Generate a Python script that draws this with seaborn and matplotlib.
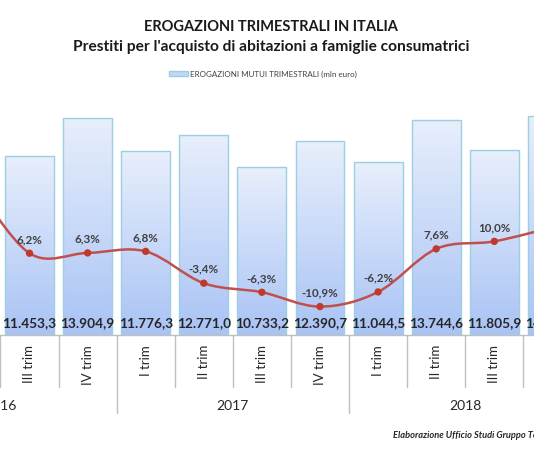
import numpy as np
import matplotlib
matplotlib.use("Agg")
import matplotlib.pyplot as plt
import seaborn as sns
import pandas as pd
from matplotlib.path import Path
from matplotlib.patches import PathPatch, Patch
from matplotlib.colors import LinearSegmentedColormap

# Data (II trim 2016 and IV trim 2018 are only partly visible in the crop)
quarters = ["II trim", "III trim", "IV trim", "I trim", "II trim", "III trim",
            "IV trim", "I trim", "II trim", "III trim", "IV trim"]
years = ["2016", "2016", "2016", "2017", "2017", "2017",
         "2017", "2018", "2018", "2018", "2018"]
erogazioni = [13220.0, 11453.3, 13904.9, 11776.3, 12771.0, 10733.2,
              12390.7, 11044.5, 13744.6, 11805.9, 14000.0]
variazione = [30.0, 6.2, 6.3, 6.8, -3.4, -6.3, -10.9, -6.2, 7.6, 10.0, 14.5]
year_labels = ["2016", "2017", "2018"]

df = pd.DataFrame({"periodo": [f"{q} {y}" for q, y in zip(quarters, years)],
                   "erogazioni": erogazioni, "variazione": variazione})


def it_num(v, dec=1):
    s = f"{v:,.{dec}f}"
    return s.replace(",", "X").replace(".", ",").replace("X", ".")


sns.set_theme(style="white")
plt.rcParams['font.family'] = ['Lato', 'DejaVu Sans']

W, H = 534, 462
fig = plt.figure(figsize=(W / 100, H / 100), dpi=100)
ax = fig.add_axes([0, 127 / H, 1, 235 / H])

bar_edge = "#9ccfe2"
sns.barplot(data=df, x="periodo", y="erogazioni", ax=ax, width=0.843,
            color="#c5d6f8", edgecolor=bar_edge, linewidth=1.0, saturation=1)

xlim = (1 - 29.5 / 58.1, 1 + (W - 29.5) / 58.1)
ylim = (0, 15035)

# vertical gradient fill inside each bar
cmap = LinearSegmentedColormap.from_list("bar", ["#a9c3f5", "#e8effc"])
grad = np.linspace(0, 1, 256).reshape(-1, 1)
for p in ax.patches:
    x0, y0 = p.get_x(), p.get_y()
    im = ax.imshow(grad, cmap=cmap, origin="lower", aspect="auto",
                   extent=[x0, x0 + p.get_width(), y0, y0 + p.get_height()],
                   zorder=1)
    im.set_clip_path(p)
    p.set_facecolor("none")
    p.set_zorder(2)

for i, v in enumerate(erogazioni):
    ax.text(i, 770, it_num(v), ha="center", va="center", fontsize=9.8,
            fontweight="bold", color="#262626", zorder=3)

ax.set_xlim(*xlim)
ax.set_ylim(*ylim)
ax.set_xlabel("")
ax.set_ylabel("")
ax.set_xticks([])
ax.set_yticks([])
for s in ["top", "left", "right"]:
    ax.spines[s].set_visible(False)
ax.spines["bottom"].set_color("#bfbfbf")
ax.spines["bottom"].set_linewidth(1.0)

# secondary axis: percentage change, smoothed line
ax2 = ax.twinx()
ax2.set_ylim(-20.0, 55.3)
ax2.set_xlim(*xlim)
line_col = "#c0504d"
xs = np.arange(len(variazione), dtype=float)
ys = np.array(variazione)
pts = np.column_stack([xs, ys])
verts = [pts[0]]
codes = [Path.MOVETO]
for i in range(len(pts) - 1):
    p0 = pts[max(i - 1, 0)]
    p1 = pts[i]
    p2 = pts[i + 1]
    p3 = pts[min(i + 2, len(pts) - 1)]
    c1 = p1 + (p2 - p0) / 6.0
    c2 = p2 - (p3 - p1) / 6.0
    verts += [c1, c2, p2]
    codes += [Path.CURVE4] * 3
ax2.add_patch(PathPatch(Path(verts, codes), facecolor="none",
                        edgecolor=line_col, linewidth=1.8, zorder=4))
sns.scatterplot(x=xs, y=ys, ax=ax2, color="#c0392b", s=28, edgecolor="none",
                zorder=5, legend=False)
for x, v in zip(xs, ys):
    ax2.annotate(f"{it_num(v)}%", (x, v), xytext=(0, 10),
                 textcoords="offset points", ha="center", va="center",
                 fontsize=8.4, fontweight="bold", color="#404040", zorder=6)
ax2.set_yticks([])
ax2.set_ylabel("")
for s in ax2.spines.values():
    s.set_visible(False)

# two-level category axis
tr = ax.get_xaxis_transform()
grid_col = "#bfbfbf"
for b in np.arange(-0.5, len(quarters) + 0.5):
    is_year = b in (2.5, 6.5)
    ax.plot([b, b], [0, -0.332 if is_year else -0.2213], transform=tr,
            color=grid_col, lw=1.0, clip_on=False)
for i, q in enumerate(quarters):
    ax.text(i, -0.0426, q, transform=tr, rotation=90, ha="center", va="top",
            fontsize=9.5, color="#262626")
for yl, c in zip(year_labels, [0.5, 4.5, 8.5]):
    ax.text(c, -0.302, yl, transform=tr, ha="center", va="center",
            fontsize=10, color="#262626")

# titles, legend, footer
fig.text(271 / W, 1 - 27 / H, "EROGAZIONI TRIMESTRALI IN ITALIA", ha="center",
         va="center", fontsize=10.5, fontweight="bold", color="#1a1a1a")
fig.text(271 / W, 1 - 47 / H,
         "Prestiti per l'acquisto di abitazioni a famiglie consumatrici",
         ha="center", va="center", fontsize=11.2, fontweight="bold",
         color="#1a1a1a")
fig.legend(handles=[Patch(facecolor="#c5d6f8", edgecolor=bar_edge,
                          label="EROGAZIONI MUTUI TRIMESTRALI (mln euro)")],
           loc="center", bbox_to_anchor=(263 / W, 1 - 74 / H), frameon=False,
           fontsize=5.8, handlelength=2.4, handleheight=0.7, handletextpad=0.2,
           labelcolor="#404040")
fig.text(393 / W, 1 - 435 / H, "Elaborazione Ufficio Studi Gruppo Tecnocasa",
         ha="left", va="center", fontsize=6.7, fontstyle="italic",
         fontweight="bold", color="#262626")

fig.savefig("out.png", dpi=100)
